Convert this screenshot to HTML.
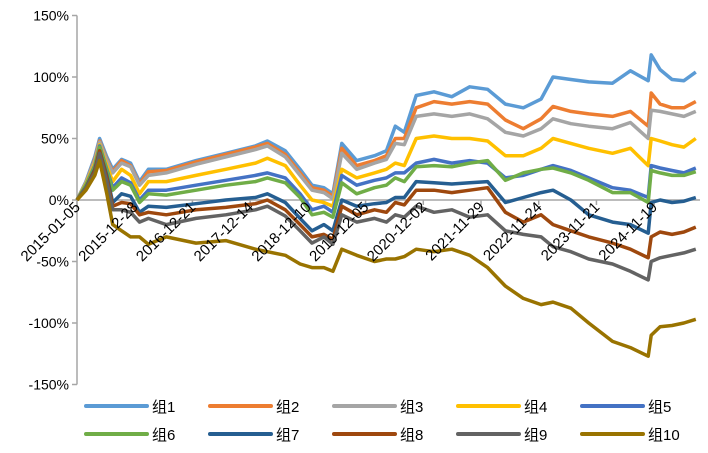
<!DOCTYPE html>
<html><head><meta charset="utf-8">
<style>
html,body{margin:0;padding:0;background:#fff;}
svg{display:block;font-family:"Liberation Sans","Noto Sans CJK SC",sans-serif;}
</style></head>
<body>
<svg id="chart" width="708" height="453" viewBox="0 0 708 453">
  <g id="axes"></g>
  <g id="series"></g>
  <g id="xlabels"></g>
  <g id="legend"></g>
</svg>
<script>
const tickLabels = ["2015-01-05","2015-12-28","2016-12-21","2017-12-14","2018-12-10","2019-12-05","2020-12-02","2021-11-29","2022-11-24","2023-11-21","2024-11-19"];
const yTicks = [150,100,50,0,-50,-100,-150];
const times = [0,0.15,0.3,0.38,0.5,0.6,0.75,0.9,1.05,1.2,1.5,2,2.5,3,3.2,3.5,3.75,3.95,4.15,4.3,4.45,4.7,5.0,5.2,5.35,5.5,5.7,6.0,6.3,6.6,6.9,7.2,7.5,7.8,8.0,8.3,8.6,9.0,9.3,9.6,9.65,9.8,10.0,10.2,10.4];
const g1 = [0,15,35,50,35,25,33,30,15,25,25,32,38,44,48,40,25,12,10,5,46,32,36,40,60,55,85,88,84,92,90,78,75,82,100,98,96,95,105,97,118,106,98,97,104];
const g2 = [0,14,33,48,33,23,32,28,13,23,24,31,37,43,46,37,22,10,8,3,42,28,32,36,50,50,75,80,78,80,78,65,58,66,76,72,70,68,72,60,87,78,75,75,80];
const g3 = [0,14,32,47,32,22,30,27,12,20,22,29,35,41,44,35,20,8,6,1,38,25,30,33,46,45,68,70,68,70,66,55,52,58,66,62,60,58,63,50,73,72,70,68,72];
const g4 = [0,13,30,45,28,15,25,20,5,15,15,20,25,30,34,28,12,0,-2,-5,25,18,22,25,30,28,50,52,50,50,48,36,36,42,50,46,42,38,42,28,50,48,45,43,50];
const g5 = [0,12,28,44,25,10,18,14,0,8,8,12,16,20,22,18,5,-8,-5,-10,20,12,16,18,22,22,30,33,30,32,30,18,20,25,28,24,18,10,8,2,28,26,24,22,26];
const g6 = [0,12,27,43,24,8,15,12,-2,5,4,8,12,15,18,14,2,-12,-10,-14,14,5,10,12,18,15,27,28,27,30,32,16,22,25,26,22,16,6,6,-2,24,22,20,20,23];
const g7 = [0,10,25,40,20,-2,5,3,-10,-5,-6,-3,0,2,5,-2,-15,-25,-20,-25,0,-5,-3,-2,2,2,15,14,13,14,15,-2,2,6,8,0,-12,-18,-20,-27,-2,0,-2,-1,2];
const g8 = [0,10,24,40,18,-5,-2,-3,-12,-10,-12,-8,-6,-3,0,-8,-20,-30,-28,-32,-5,-12,-8,-10,-2,-4,8,8,6,8,10,-10,-18,-12,-20,-25,-30,-35,-40,-47,-30,-26,-28,-26,-22];
const g9 = [0,10,22,38,15,-8,-8,-10,-18,-15,-20,-15,-12,-8,-5,-13,-25,-35,-30,-36,-12,-18,-15,-18,-12,-14,-5,-10,-8,-14,-12,-25,-28,-30,-38,-42,-48,-52,-58,-65,-50,-47,-45,-43,-40];
const g10 = [0,8,20,32,5,-20,-25,-30,-30,-36,-30,-35,-33,-40,-42,-45,-52,-55,-55,-58,-40,-45,-50,-48,-48,-46,-40,-42,-40,-45,-55,-70,-80,-85,-83,-88,-100,-115,-120,-127,-110,-103,-102,-100,-97];
const seriesNames = ["组1","组2","组3","组4","组5","组6","组7","组8","组9","组10"];
const seriesData = [g1,g2,g3,g4,g5,g6,g7,g8,g9,g10];
const colors = ["#5B9BD5","#ED7D31","#A5A5A5","#FFC000","#4472C4","#70AD47","#255E91","#9E480E","#636363","#997300"];

const NS="http://www.w3.org/2000/svg";
const X0=77, XS=59.5, Y0=200, YS=1.23;
function xScale(t){return X0+t*XS;}
function yScale(v){return Y0-v*YS;}
function mk(tag,attrs,parent){const e=document.createElementNS(NS,tag);for(const k in attrs)e.setAttribute(k,attrs[k]);parent.appendChild(e);return e;}

const axes=document.getElementById('axes');
const xl=document.getElementById('xlabels');
const yAxis=mk('line',{x1:X0,y1:yScale(150),x2:X0,y2:yScale(-150),stroke:'#a6a6a6','stroke-width':1.5},axes);


yTicks.forEach(v=>{
  const tk=mk('line',{x1:X0-5,y1:yScale(v),x2:X0,y2:yScale(v),stroke:'#a6a6a6','stroke-width':1.5},axes);
  
  
  const tx=mk('text',{x:X0-8,y:yScale(v)+5,'text-anchor':'end','font-size':14,fill:'#000'},axes);
  tx.textContent=v+'%';
  
  
});
const xAxis=mk('line',{x1:X0,y1:Y0,x2:700,y2:Y0,stroke:'#a6a6a6','stroke-width':1.5},axes);


tickLabels.forEach((lab,i)=>{
  const x=xScale(i*0.97);
  const tk=mk('line',{x1:x,y1:Y0,x2:x,y2:Y0+5,stroke:'#a6a6a6','stroke-width':1.5},axes);
  
  
  const tx=mk('text',{x:0,y:0,'text-anchor':'end','font-size':15,fill:'#000',transform:`translate(${x+4},${Y0+8}) rotate(-45)`},xl);
  tx.textContent=lab;
  
  
});

const sg=document.getElementById('series');
seriesData.forEach((arr,si)=>{
  const d=arr.map((v,i)=>(i?'L':'M')+xScale(times[i]).toFixed(1)+','+yScale(v).toFixed(1)).join(' ');
  const p=mk('path',{d:d,fill:'none',stroke:colors[si],'stroke-width':3.5,'stroke-linejoin':'round'},sg);
  
  
});

const lg=document.getElementById('legend');
seriesNames.forEach((n,i)=>{
  const col=i%5,row=Math.floor(i/5);
  const x=86+col*124,y=406+row*28;
  const g=mk('g',{},lg);
  
  
  mk('line',{x1:x,y1:y,x2:x+61,y2:y,stroke:colors[i],'stroke-width':4,'stroke-linecap':'round'},g);
  const t=mk('text',{x:x+66,y:y+6,'font-size':15,fill:'#000'},g);
  t.textContent=n;
});
</script>
</body></html>
